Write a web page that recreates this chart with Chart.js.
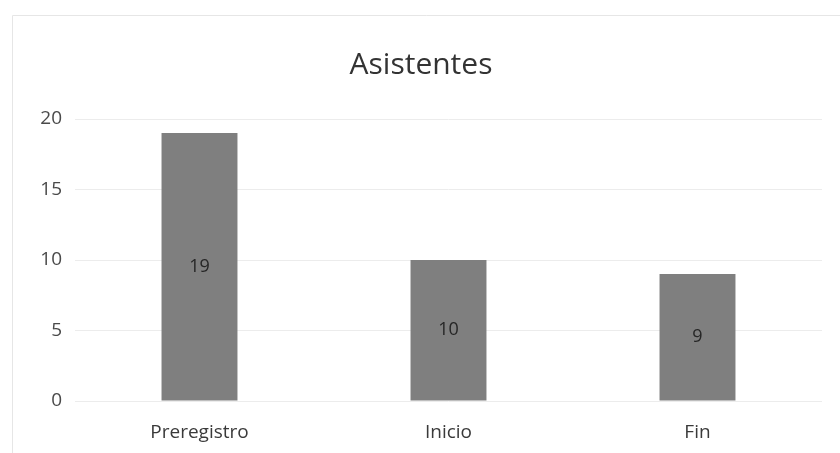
<!DOCTYPE html>
<html>
<head>
<meta charset="utf-8">
<script src="https://cdn.jsdelivr.net/npm/chart.js@4"></script>
<style>
  html, body { margin:0; padding:0; background:#fff; }
  #wrap { width:840px; height:453px; position:relative; }
</style>
</head>
<body>
<div id="wrap"><canvas id="chart" width="840" height="453"></canvas></div>
<script>
const categories = ["Preregistro", "Inicio", "Fin"];
const asistentes = [19, 10, 9];
const yTicks = [0, 5, 10, 15, 20];

const FONT = "'Open Sans', 'Noto Sans', sans-serif";

// numbers in the middle of each bar
const barLabels = {
    id: "barLabels",
    afterDatasetsDraw(chart){
        const c = chart.ctx;
        const meta = chart.getDatasetMeta(0);
        c.save();
        c.font = "18px " + FONT;
        c.fillStyle = "#262626";
        c.textAlign = "center";
        c.textBaseline = "middle";
        meta.data.forEach((bar,i)=>{
            c.fillText(asistentes[i], bar.x, (bar.y + bar.base)/2);
        });
        c.restore();
    }
};

// faint frame of the chart box
const frame = {
    id: "frame",
    beforeDraw(chart){
        const c = chart.ctx;
        c.save();
        c.strokeStyle = "#e6e6e6";
        c.lineWidth = 1;
        c.beginPath();
        c.moveTo(12.5, 453);
        c.lineTo(12.5, 15.5);
        c.lineTo(840, 15.5);
        c.stroke();
        c.restore();
    }
};

new Chart(document.getElementById("chart"),{
    type:"bar",
    data:{
        labels:categories,
        datasets:[{
            label:"Asistentes",
            data:asistentes,
            backgroundColor:"#7f7f7f",
            borderWidth:0,
            categoryPercentage:1,
            barPercentage:0.305
        }]
    },
    options:{
        responsive:false,
        animation:false,
        devicePixelRatio:1,
        layout:{ padding:{ left:20, right:18, top:0, bottom:0 } },
        plugins:{
            legend:{ display:false },
            tooltip:{ enabled:false },
            title:{
                display:true,
                text:"Asistentes",
                color:"#333333",
                font:{ family:FONT, size:30, weight:"normal", lineHeight:1.2 },
                padding:{ top:47, bottom:36 }
            }
        },
        scales:{
            x:{
                grid:{ display:false, drawTicks:false },
                border:{ display:false },
                ticks:{ color:"#3a3a3a", font:{ family:FONT, size:19 }, padding:20 },
                afterFit(s){ s.height = 52; }
            },
            y:{
                min:0, max:20,
                afterBuildTicks(s){ s.ticks = yTicks.map(v=>({ value:v })); },
                grid:{ color:"#ececec", drawTicks:false },
                border:{ display:false },
                ticks:{ color:"#4a4a4a", font:{ family:FONT, size:19 }, padding:13 },
                afterFit(s){ s.width = 55; }
            }
        }
    },
    plugins:[barLabels, frame]
});
</script>
</body>
</html>
